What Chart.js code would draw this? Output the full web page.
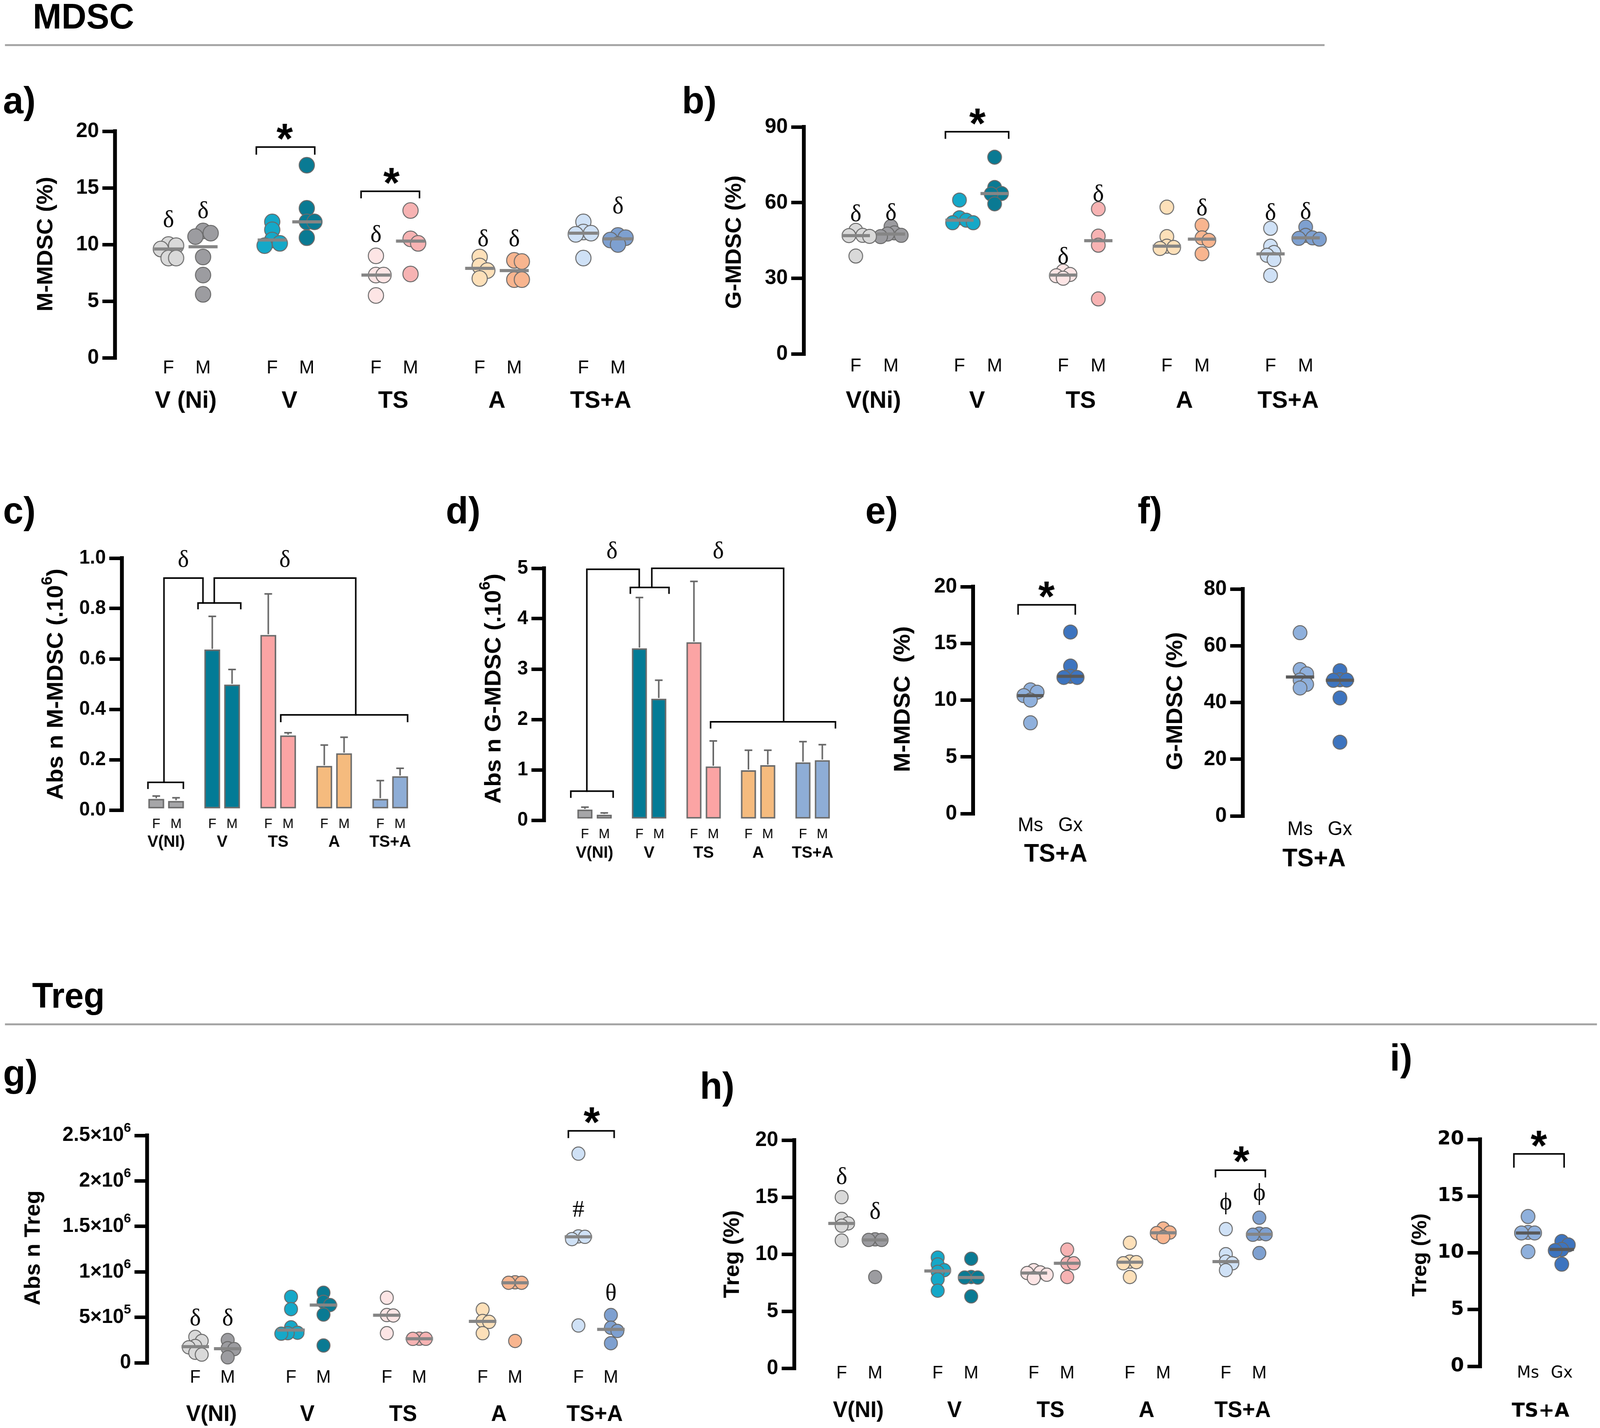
<!DOCTYPE html>
<html><head><meta charset="utf-8"><title>MDSC / Treg</title>
<script src="https://cdn.jsdelivr.net/npm/chart.js@4.4.1/dist/chart.umd.min.js"></script>
<style>
html{margin:0;padding:0;background:#fff;overflow:hidden}
body{margin:0;padding:0;background:#fff;position:relative;width:100%;height:3656px;font-family:'Liberation Sans',Arial,sans-serif;color:#000}
#page{position:absolute;left:0;top:0;width:4188px;height:3656px;transform-origin:0 0;background:#fff}
.t{position:absolute;white-space:nowrap;font-weight:bold;line-height:1}
.rule{position:absolute;height:5px;background:#a6a6a6}
canvas{position:absolute}
</style></head><body>
<div id="page"></div>
<script>
// ================= DATA =================
const sexLabels = ['F','M'];
const txLabels  = ['Ms','Gx'];
const groupsA   = ['V (Ni)','V','TS','A','TS+A'];
const groupsB   = ['V(Ni)','V','TS','A','TS+A'];
const groupsNI  = ['V(NI)','V','TS','A','TS+A'];
const groupTSA  = ['TS+A'];

// a) M-MDSC (%)  order: V(Ni) F, V(Ni) M, V F, V M, TS F, TS M, A F, A M, TS+A F, TS+A M
const mMdscPct = [
  [10.0, 9.9, 9.6, 8.8, 8.8],
  [11.2, 11.0, 10.7, 8.9, 7.3, 5.6],
  [12.0, 11.3, 10.4, 10.1, 9.9],
  [17.0, 13.2, 12.0, 12.0, 10.6],
  [9.0, 7.3, 7.3, 5.5],
  [13.0, 10.5, 10.1, 7.4],
  [8.9, 8.1, 7.7, 7.0],
  [8.6, 8.5, 6.9, 6.9],
  [12.0, 11.1, 11.0, 10.9, 8.8],
  [10.8, 10.6, 10.4, 10.0]
];
// b) G-MDSC (%)
const gMdscPct = [
  [49.0, 47.0, 46.9, 46.6, 38.8],
  [50.5, 48.0, 47.5, 47.0, 46.5],
  [61.0, 54.0, 53.0, 52.0, 52.0],
  [78.0, 66.0, 63.6, 63.4, 59.5],
  [32.8, 31.5, 31.0, 30.0],
  [57.5, 46.7, 43.1, 21.8],
  [58.2, 46.5, 42.7, 42.2, 41.8],
  [51.0, 46.0, 45.0, 39.7],
  [49.8, 42.7, 40.2, 39.1, 37.4, 31.1],
  [50.3, 47.0, 46.0, 45.8, 45.5]
];
// c) Abs n M-MDSC (x10^6): mean and SEM
const absMMdscMean = [0.044, 0.036, 0.637, 0.498, 0.695, 0.296, 0.175, 0.225, 0.044, 0.134];
const absMMdscSem  = [0.012, 0.013, 0.132, 0.060, 0.163, 0.011, 0.083, 0.064, 0.073, 0.032];
// d) Abs n G-MDSC (x10^6)
const absGMdscMean = [0.21, 0.108, 3.41, 2.41, 3.53, 1.066, 0.99, 1.09, 1.146, 1.19];
const absGMdscSem  = [0.05, 0.038, 1.01, 0.37, 1.21, 0.507, 0.40, 0.30, 0.414, 0.31];
// e) M-MDSC (%) TS+A Ms / Gx
const mMdscTx = [[10.9, 10.7, 10.4, 10.0, 8.0], [16.0, 13.0, 12.1, 12.0, 12.0]];
// f) G-MDSC (%) TS+A Ms / Gx
const gMdscTx = [[64.6, 51.6, 50.1, 47.9, 46.4, 45.1], [51.2, 48.0, 47.9, 47.8, 41.6, 26.0]];
// g) Abs n Treg
const absTreg = [
  [285000, 240000, 185000, 170000, 110000, 90000],
  [250000, 160000, 150000, 60000],
  [725000, 590000, 390000, 330000, 325000, 320000],
  [770000, 670000, 635000, 530000, 190000],
  [715000, 525000, 520000, 325000],
  [265000, 264000, 263000],
  [585000, 460000, 450000, 325000],
  [885000, 880000, 880000, 240000],
  [2300000, 1390000, 1385000, 1360000, 410000],
  [525000, 385000, 350000, 215000]
];
const absTregTicks = ['0','5×10^5','1×10^6','1.5×10^6','2×10^6','2.5×10^6'];
// h) Treg (%)
const tregPct = [
  [15.0, 13.1, 12.7, 12.5, 11.2],
  [11.3, 11.25, 11.25, 8.0],
  [9.7, 9.1, 8.6, 8.45, 7.8, 6.8],
  [9.6, 8.0, 7.95, 7.95, 6.3],
  [8.6, 8.4, 8.35, 8.2, 7.9],
  [10.4, 9.2, 9.2, 8.0],
  [11.0, 9.35, 9.3, 9.2, 8.0],
  [12.25, 11.9, 11.85, 11.5],
  [12.2, 10.0, 9.35, 9.2, 8.6],
  [13.2, 11.8, 11.75, 11.7, 10.1]
];
// i) Treg (%) TS+A Ms / Gx
const tregTx = [[13.2, 11.8, 11.75, 11.75, 10.1], [11.0, 10.7, 10.3, 10.2, 9.0]];

// ================= STYLE =================
const FONT  = "'Liberation Sans', Arial, sans-serif";
const WIDE  = "'DejaVu Sans', Verdana, sans-serif";
const SERIF = "'Liberation Serif', 'Times New Roman', 'DejaVu Serif', serif";
const dotColors = ['#d9d9d9','#9c9ca0','#15a8c8','#0a7a93','#fde5e5','#f7b3b3','#fde0b9','#f8b58f','#cfe1f6','#7ea0d0'];
const barColors = ['#a6a6a8','#a6a6a8','#037b96','#037b96','#fba4a4','#fba4a4','#f5bb7e','#f5bb7e','#8eadd6','#8eadd6'];
const txColors  = ['#8fb0dc','#3d74bf'];

// fit the 4188-wide layout into the actual viewport width (viewport may be narrower)
const PAGE = document.getElementById('page');
let vw = window.innerWidth || 4188;
if (vw < 2000) vw = 4188;
const SX = Math.min(1, vw / 4188);
PAGE.style.transform = 'scale(' + SX + ',1)';

// ================= HELPERS =================
function median(a){const s=[...a].sort((x,y)=>x-y);const n=s.length;return n%2?s[(n-1)/2]:(s[n/2-1]+s[n/2])/2;}
function swarm(vals, pxPerY, r){
  const placed=[], out=[];
  vals.forEach(v=>{
    const y=v*pxPerY; let best=0;
    for(let k=0;k<40;k++){
      const cand = k===0?0:(k%2?1:-1)*Math.ceil(k/2)*r*0.5;
      if(placed.every(p=>Math.hypot(cand-p.x,y-p.y)>=r-0.01)){best=cand;break;}
    }
    placed.push({x:best,y}); out.push(best);
  });
  return out;
}
function mkCanvas(b){
  const c=document.createElement('canvas');
  c.width=b.W;c.height=b.H;
  c.style.left=b.L+'px';c.style.top=b.T+'px';c.style.width=b.W+'px';c.style.height=b.H+'px';
  PAGE.appendChild(c);return c;
}
function txt(s,left,baseline,size){
  const d=document.createElement('div');d.className='t';d.textContent=s;
  d.style.left=left+'px';d.style.top=(baseline-0.8465*size)+'px';d.style.fontSize=size+'px';
  PAGE.appendChild(d);
}
function rule(left,top,width){const d=document.createElement('div');d.className='rule';d.style.left=left+'px';d.style.top=top+'px';d.style.width=width+'px';PAGE.appendChild(d);}
// text with "^d" superscripts; align: 'center' or 'right'; textBaseline middle
function rich(c,str,x,y,size,weight,family,align){
  const parts=str.split(/(\^\d+)/).filter(s=>s.length);
  const supSize=Math.round(size*0.66);
  const fN=weight+' '+size+'px '+family, fS=weight+' '+supSize+'px '+family;
  let w=0; const m=parts.map(p=>{const sup=p[0]==='^';const t=sup?p.slice(1):p;c.font=sup?fS:fN;const ww=c.measureText(t).width;w+=ww;return {t,sup,ww};});
  let cx = align==='right'? x-w : x-w/2;
  c.textAlign='left';c.textBaseline='middle';
  m.forEach(p=>{c.font=p.sup?fS:fN;c.fillText(p.t,cx,p.sup?y-size*0.36:y);cx+=p.ww;});
}

function deco(P){
  return {id:'deco',afterDatasetsDraw(chart){
    const c=chart.ctx, xs=chart.scales.x, ys=chart.scales.y;
    const X=v=>xs.getPixelForValue(v), Y=v=>ys.getPixelForValue(v);
    c.save();
    if(P.values){
      c.strokeStyle=P.medColor;c.lineWidth=P.medWidth;c.lineCap='butt';
      P.values.forEach((vals,i)=>{const y=Y(median(vals)),x=X(P.slot(i));c.beginPath();c.moveTo(x-P.medHalf,y);c.lineTo(x+P.medHalf,y);c.stroke();});
    }
    if(P.sem){
      c.strokeStyle='#666';c.lineWidth=4;
      P.means.forEach((m,i)=>{const x=X(P.slot(i)),y0=Y(m),y1=Y(m+P.sem[i]);c.beginPath();c.moveTo(x,y0-2);c.lineTo(x,y1);c.moveTo(x-P.capHalf,y1);c.lineTo(x+P.capHalf,y1);c.stroke();});
    }
    c.strokeStyle='#000';c.fillStyle='#000';c.lineWidth=4;c.lineCap='square';c.lineJoin='miter';
    (P.ann||[]).forEach(a=>{
      if(a.t==='br'){c.beginPath();c.moveTo(X(a.x1),Y(a.y2));c.lineTo(X(a.x1),Y(a.y));c.lineTo(X(a.x2),Y(a.y));c.lineTo(X(a.x2),Y(a.y2));c.stroke();}
      else if(a.t==='path'){c.beginPath();a.pts.forEach((p,k)=>k?c.lineTo(X(p[0]),Y(p[1])):c.moveTo(X(p[0]),Y(p[1])));c.stroke();}
      else if(a.t==='star'){const fs=110;c.font='bold '+fs+'px '+FONT;c.textAlign='center';c.textBaseline='alphabetic';c.fillText('*',X(a.x),Y(a.y)+0.56*fs);}
      else if(a.t==='sym'){const fs=P.symSize||62;c.font=fs+'px '+SERIF;c.textAlign='center';c.textBaseline='alphabetic';c.fillText(a.s,X(a.x),Y(a.y)+(a.s==='ϕ'?0.24:0.35)*fs);}
    });
    // rich tick labels (superscripts) drawn by hand when requested
    if(P.richTicks){
      ys.ticks.forEach((t,i)=>rich(c,P.richTicks[i],chart.chartArea.left-42,Y(t.value),P.tickSize,'bold',FONT,'right'));
    }
    const lab=P.labelFamily||FONT;
    c.textAlign='center';c.textBaseline='middle';
    const n=(P.values||P.means).length;
    c.font=P.subFont+'px '+lab;
    for(let i=0;i<n;i++) c.fillText(P.sub[i%2],X(P.slot(i)),P.subY-P.box.T);
    c.font='bold '+P.grpFont+'px '+lab;
    P.groups.forEach((g,gi)=>c.fillText(g,X(P.slot(gi*2)+(P.grpDx!==undefined?P.grpDx:0.5)),P.grpY-P.box.T));
    c.translate(P.title.x-P.box.L,P.title.y-P.box.T);c.rotate(-Math.PI/2);
    rich(c,P.title.text,0,0,P.title.size,'bold',FONT,'center');
    c.restore();
  }};
}
function baseOptions(P){
  return {
    responsive:false,animation:false,devicePixelRatio:1,events:[],
    layout:{padding:{left:0,right:P.box.L+P.box.W-P.rightX,top:P.topY-P.box.T,bottom:P.box.T+P.box.H-P.zeroY}},
    plugins:{legend:{display:false},tooltip:{enabled:false}},
    scales:{
      x:{type:'linear',display:false,offset:false,grid:{offset:false},min:(P.axisX-P.firstX)/P.unit,max:(P.rightX-P.firstX)/P.unit},
      y:{type:'linear',min:0,max:P.yMax,
         ticks:{stepSize:P.step,autoSkip:false,color:P.richTicks?'rgba(0,0,0,0)':'#000',padding:9,
                font:{family:P.tickFamily||FONT,size:P.tickSize,weight:'bold'},callback:P.tickCb||(v=>String(v))},
         grid:{display:true,drawOnChartArea:false,drawTicks:true,tickLength:33,tickWidth:9,lineWidth:9,tickColor:'#000',color:'#000'},
         border:{display:true,color:'#000',width:10},
         afterFit:s=>{s.width=P.axisX-P.box.L;}}
    }
  };
}
function slotOf(P){return i=>P.G?Math.floor(i/2)*P.G+(i%2):i;}
function scatterPanel(P){
  P.slot=slotOf(P);
  const cv=mkCanvas(P.box);
  const pxPerY=(P.zeroY-P.topY)/P.yMax;
  const datasets=P.values.map((vals,i)=>{
    const offs=swarm(vals,pxPerY,P.r);
    return {data:vals.map((v,k)=>({x:P.slot(i)+offs[k]/P.unit,y:v})),pointRadius:P.r,pointHoverRadius:P.r,
      backgroundColor:P.colors[i],borderColor:'#6a6a6a',borderWidth:2.5,showLine:false,clip:false};
  });
  new Chart(cv,{type:'scatter',data:{datasets},options:baseOptions(P),plugins:[deco(P)]});
}
function barPanel(P){
  P.slot=slotOf(P);
  const cv=mkCanvas(P.box);
  const datasets=[{data:P.means.map((m,i)=>({x:P.slot(i),y:m})),backgroundColor:P.colors,borderColor:'#6b6b6b',
    borderWidth:4,borderSkipped:false,barThickness:P.barW,clip:false}];
  new Chart(cv,{type:'bar',data:{datasets},options:baseOptions(P),plugins:[deco(P)]});
}
const sym=(x,y,s)=>({t:'sym',x,y,s});
const br=(x1,x2,y,y2)=>({t:'br',x1,x2,y,y2});
const star=(x,y)=>({t:'star',x,y});
const path=pts=>({t:'path',pts});

// ================= PAGE =================
txt('MDSC',86,73,90);
rule(13,113,3454);
txt('Treg',84,2580,90);
rule(13,2620,4167);
txt('a)',8,290,96); txt('b)',1785,290,96);
txt('c)',8,1340,96); txt('d)',1167,1340,96); txt('e)',2265,1340,96); txt('f)',2978,1340,96);
txt('g)',8,2781,96); txt('h)',1832,2813,96); txt('i)',3638,2741,96);

// a)
scatterPanel({box:{L:60,T:240,W:1680,H:840},axisX:301,topY:336,zeroY:916,rightX:1700,firstX:441,unit:90.5,G:3,
  yMax:20,step:5,tickSize:54,values:mMdscPct,colors:dotColors,r:20,medHalf:38,medWidth:8,medColor:'#858585',
  sub:sexLabels,groups:groupsA,subY:943,grpY:1027,subFont:48,grpFont:62,
  title:{text:'M-MDSC (%)',x:121,y:625,size:58},
  ann:[sym(0,12.3,'δ'),sym(1,13.1,'δ'),sym(6,11.0,'δ'),sym(9.1,10.6,'δ'),sym(10,10.6,'δ'),sym(13,13.5,'δ'),
       br(2.54,4.23,18.6,18.0),star(3.36,20.2),br(5.57,7.26,14.7,14.15),star(6.45,16.3)]});
// b)
scatterPanel({box:{L:1870,T:240,W:1700,H:840},axisX:2104,topY:325,zeroY:906,rightX:3520,firstX:2240,unit:92,G:2.95,
  yMax:90,step:30,tickSize:54,values:gMdscPct,colors:dotColors,r:18,medHalf:37,medWidth:8,medColor:'#858585',
  sub:sexLabels,groups:groupsB,subY:938,grpY:1027,subFont:48,grpFont:62,
  title:{text:'G-MDSC (%)',x:1923,y:620,size:58},
  ann:[sym(0,56.0,'δ'),sym(1,56.5,'δ'),sym(5.9,39.1,'δ'),sym(6.9,63.9,'δ'),sym(9.85,58.3,'δ'),sym(11.8,56.5,'δ'),sym(12.8,56.9,'δ'),
       br(2.55,4.35,88.1,85.6),star(3.46,95.2)]});
// c)
barPanel({box:{L:60,T:1380,W:1120,H:820},axisX:319,topY:1429,zeroY:2074,rightX:1100,firstX:409,unit:51.8,G:2.83,
  yMax:1,step:0.2,tickSize:50,tickCb:v=>Number(v).toFixed(1),means:absMMdscMean,sem:absMMdscSem,colors:barColors,barW:41,capHalf:10,
  sub:sexLabels,groups:groupsNI,subY:2110,grpY:2156,subFont:35,grpFont:42,
  title:{text:'Abs n M-MDSC (.10^6)',x:147,y:1752,size:60},
  ann:[br(-0.42,1.37,0.11,0.087),path([[0.39,0.11],[0.39,0.921],[2.36,0.921],[2.36,0.822]]),br(2.11,4.27,0.822,0.80),
       path([[2.93,0.822],[2.93,0.921],[10.08,0.921],[10.08,0.378]]),br(6.29,12.7,0.378,0.352),sym(1.37,1.0,'δ'),sym(6.5,1.0,'δ')]});
// d)
barPanel({box:{L:1220,T:1380,W:1000,H:840},axisX:1424,topY:1455,zeroY:2100,rightX:2210,firstX:1531,unit:50.6,G:2.82,
  yMax:5,step:1,tickSize:50,means:absGMdscMean,sem:absGMdscSem,colors:barColors,barW:39,capHalf:10,
  sub:sexLabels,groups:groupsNI,subY:2136,grpY:2184,subFont:35,grpFont:42,
  title:{text:'Abs n G-MDSC (.10^6)',x:1293,y:1763,size:60},
  ann:[br(-0.73,1.46,0.577,0.46),path([[0.1,0.577],[0.1,4.98],[2.81,4.98],[2.81,4.638]]),br(2.35,4.35,4.62,4.507),
       path([[3.46,4.62],[3.46,5.0],[10.28,5.0],[10.28,1.953]]),br(6.5,12.96,1.953,1.836),sym(1.4,5.37,'δ'),sym(6.9,5.37,'δ')]});
// e)
scatterPanel({box:{L:2300,T:1420,W:600,H:820},axisX:2547,topY:1502,zeroY:2083,rightX:2890,firstX:2702,unit:108,
  yMax:20,step:5,tickSize:54,values:mMdscTx,colors:txColors,r:18,medHalf:34,medWidth:8,medColor:'#595959',
  sub:txLabels,groups:groupTSA,grpDx:0.63,subY:2114,grpY:2188,subFont:50,grpFont:64,
  title:{text:'M-MDSC  (%)',x:2364,y:1790,size:60},
  ann:[br(-0.31,1.12,18.4,17.6),star(0.4,20.0)]});
// f)
scatterPanel({box:{L:3020,T:1420,W:560,H:820},axisX:3253,topY:1508,zeroY:2089,rightX:3570,firstX:3408,unit:108,
  yMax:80,step:20,tickSize:54,values:gMdscTx,colors:txColors,r:18,medHalf:37,medWidth:8,medColor:'#595959',
  sub:txLabels,groups:groupTSA,grpDx:0.35,subY:2124,grpY:2200,subFont:50,grpFont:64,
  title:{text:'G-MDSC (%)',x:3077,y:1795,size:60},ann:[]});
// g)
scatterPanel({box:{L:30,T:2800,W:1710,H:856},axisX:385,topY:2907,zeroY:3489,rightX:1700,firstX:511,unit:85,G:2.95,
  yMax:2500000,step:500000,tickSize:52,richTicks:absTregTicks,tickCb:(v,i)=>absTregTicks[i],values:absTreg,colors:dotColors,r:17,medHalf:36,medWidth:8,medColor:'#858585',
  sub:sexLabels,groups:groupsNI,subY:3527,grpY:3622,subFont:46,grpFont:57,
  title:{text:'Abs n Treg',x:88,y:3195,size:57},
  ann:[sym(0,504000,'δ'),sym(1,504000,'δ'),sym(11.8,1700000,'#'),sym(12.8,780000,'θ'),br(11.49,12.9,2550000,2480000),star(12.21,2750000)]});
// h)
scatterPanel({box:{L:1860,T:2830,W:1600,H:826},axisX:2079,topY:2919,zeroY:3503,rightX:3440,firstX:2203,unit:87.6,G:2.87,
  yMax:20,step:5,tickSize:54,values:tregPct,colors:dotColors,r:17,medHalf:35,medWidth:8,medColor:'#858585',
  sub:sexLabels,groups:groupsNI,subY:3516,grpY:3612,subFont:46,grpFont:57,
  title:{text:'Treg (%)',x:1918,y:3211,size:57},
  ann:[sym(0,16.9,'δ'),sym(1,13.85,'δ'),sym(11.48,14.46,'ϕ'),sym(12.48,15.27,'ϕ'),br(11.17,12.66,17.36,16.8),star(11.94,19.0)]});
// i)
scatterPanel({box:{L:3660,T:2850,W:528,H:806},axisX:3874,topY:2917,zeroY:3498,rightX:4180,firstX:4005,unit:92,
  yMax:20,step:5,tickSize:50,tickFamily:WIDE,labelFamily:WIDE,values:tregTx,colors:txColors,r:18,medHalf:32,medWidth:8,medColor:'#595959',
  sub:txLabels,groups:groupTSA,grpDx:0.37,subY:3516,grpY:3614,subFont:42,grpFont:50,
  title:{text:'Treg (%)',x:3718,y:3213,size:54},
  ann:[br(-0.42,1.07,18.72,17.57),star(0.32,20.3)]});
</script>
</body></html>
